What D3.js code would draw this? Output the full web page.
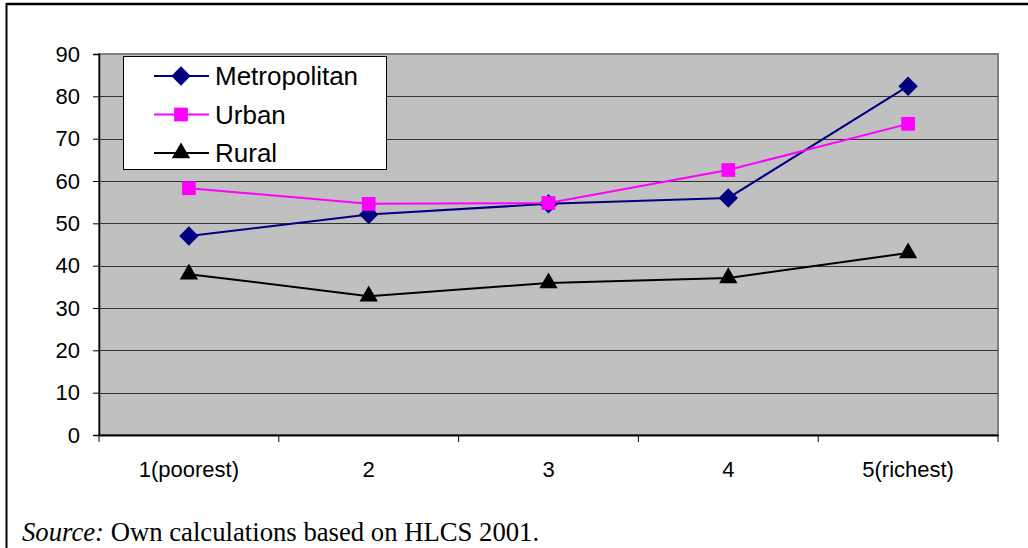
<!DOCTYPE html>
<html><head><meta charset="utf-8">
<script src="https://cdn.jsdelivr.net/npm/d3@7"></script>
<style>
html,body{margin:0;padding:0;background:#fff;}
svg{display:block;}
</style></head>
<body>
<svg id="chart" width="1028" height="548"></svg>
<script>
const categories = ["1(poorest)", "2", "3", "4", "5(richest)"];
const metropolitan = [47, 52.1, 54.6, 56.0, 82.4];
const urban = [58.3, 54.6, 54.8, 62.6, 73.5];
const rural = [38.0, 32.8, 35.9, 37.1, 43.0];
const seriesNames = ["Metropolitan", "Urban", "Rural"];
const yTicks = [0, 10, 20, 30, 40, 50, 60, 70, 80, 90];

const series = [
  {name: seriesNames[0], values: metropolitan, color: "#000080", shape: d3.symbolDiamond2},
  {name: seriesNames[1], values: urban, color: "#ff00ff", shape: d3.symbolSquare2},
  {name: seriesNames[2], values: rural, color: "#000000", shape: d3.symbolTriangle2}
];

const svg = d3.select("#chart");
const L = 99, R = 998, T = 54, B = 435;
const sans = "Liberation Sans, Arial, sans-serif";

// outer frame
svg.append("line").attr("x1", 6.5).attr("x2", 1028).attr("y1", 4).attr("y2", 4).attr("stroke", "#000").attr("stroke-width", 2.5);
svg.append("line").attr("x1", 6.5).attr("x2", 6.5).attr("y1", 3).attr("y2", 548).attr("stroke", "#000").attr("stroke-width", 2);

const x = d3.scaleBand().domain(categories).range([L, R]).padding(0);
const y = d3.scaleLinear().domain([0, 90]).range([B, T]);

// plot area
svg.append("rect").attr("x", L).attr("y", T).attr("width", R - L).attr("height", B - T)
  .attr("fill", "#c0c0c0").attr("stroke", "#808080").attr("stroke-width", 2);

// gridlines
svg.append("g").selectAll("line").data(yTicks.filter(d => d > 0 && d < 90)).join("line")
  .attr("x1", L).attr("x2", R).attr("y1", d => Math.round(y(d)) + 0.5).attr("y2", d => Math.round(y(d)) + 0.5)
  .attr("stroke", "#333").attr("stroke-width", 1);

// y axis
const yAxis = svg.append("g").attr("transform", `translate(${L},0)`)
  .call(d3.axisLeft(y).tickValues(yTicks).tickSize(6).tickPadding(13));
yAxis.select(".domain").attr("stroke", "#000").attr("stroke-width", 1.5);
yAxis.selectAll(".tick line").attr("stroke", "#000");
yAxis.selectAll("text").attr("font-family", sans).attr("font-size", 22).attr("fill", "#000");

// x axis
const xAxis = svg.append("g").attr("transform", `translate(0,${B})`)
  .call(d3.axisBottom(x).tickSize(0).tickPadding(0));
xAxis.select(".domain").attr("stroke", "#000").attr("stroke-width", 2);
xAxis.selectAll(".tick text").attr("font-family", sans).attr("font-size", 22)
  .attr("fill", "#000").attr("dy", 0).attr("y", 42);
// boundary ticks
const bounds = categories.map(c => x(c)).concat([x(categories[categories.length - 1]) + x.bandwidth()]);
svg.append("g").selectAll("line").data(bounds).join("line")
  .attr("x1", d => d).attr("x2", d => d).attr("y1", B).attr("y2", B + 7)
  .attr("stroke", "#000").attr("stroke-width", 1);

// lines and markers
const line = d3.line().x((d, i) => x(categories[i]) + x.bandwidth() / 2).y(d => y(d));
series.forEach(s => {
  svg.append("path").datum(s.values).attr("d", line).attr("fill", "none")
    .attr("stroke", s.color).attr("stroke-width", 2);
  svg.append("g").selectAll("path").data(s.values).join("path")
    .attr("d", d3.symbol().type(s.shape).size(240))
    .attr("transform", (d, i) => `translate(${x(categories[i]) + x.bandwidth() / 2},${y(d)})`)
    .attr("fill", s.color);
});

// legend
const lg = svg.append("g");
lg.append("rect").attr("x", 123.5).attr("y", 56.5).attr("width", 263).attr("height", 113)
  .attr("fill", "#fff").attr("stroke", "#000").attr("stroke-width", 1);
series.forEach((s, i) => {
  const yy = 76 + i * 38.5;
  lg.append("line").attr("x1", 154).attr("x2", 209).attr("y1", yy).attr("y2", yy)
    .attr("stroke", s.color).attr("stroke-width", 2);
  lg.append("path").attr("d", d3.symbol().type(s.shape).size(240))
    .attr("transform", `translate(181,${yy})`).attr("fill", s.color);
  lg.append("text").attr("x", 215).attr("y", yy + 9).text(s.name)
    .attr("font-family", sans).attr("font-size", 26).attr("fill", "#000");
});

// source note
const src = svg.append("text").attr("x", 22).attr("y", 541)
  .attr("font-family", "Liberation Serif, Times New Roman, serif").attr("font-size", 26.7).attr("fill", "#000");
src.append("tspan").attr("font-style", "italic").text("Source:");
src.append("tspan").text(" Own calculations based on HLCS 2001.");
</script>
</body></html>
